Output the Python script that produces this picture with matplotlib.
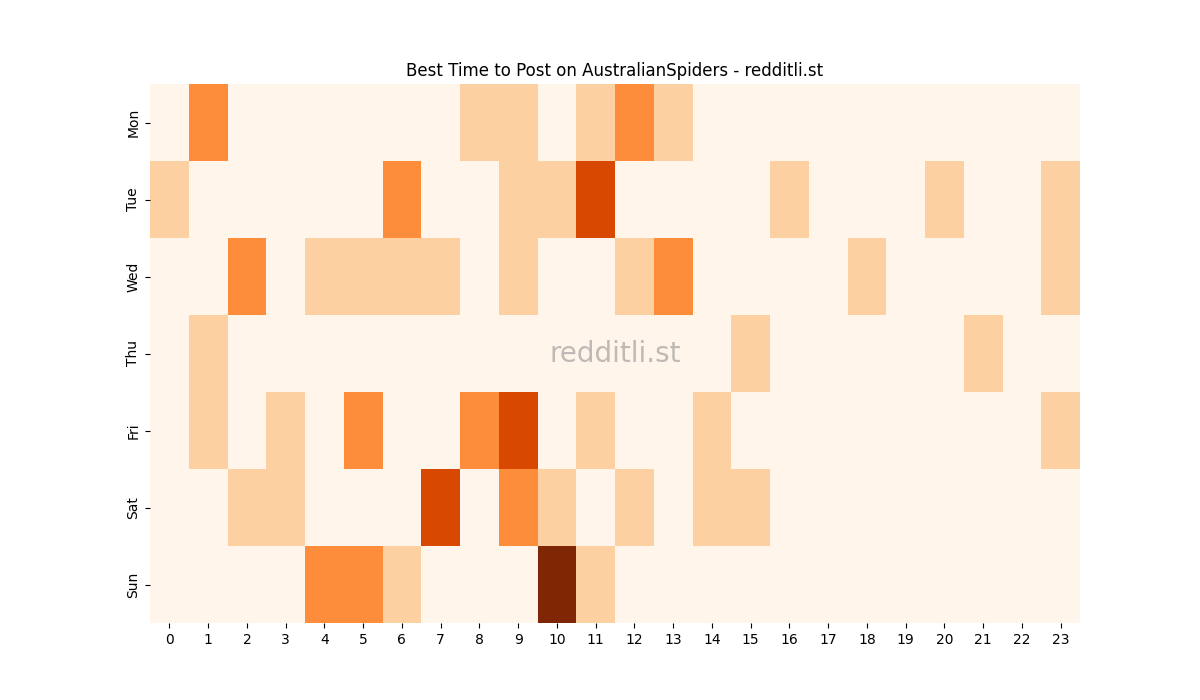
import matplotlib
matplotlib.use("Agg")
import matplotlib.pyplot as plt
import seaborn as sns
import numpy as np

days = ["Mon", "Tue", "Wed", "Thu", "Fri", "Sat", "Sun"]
hours = list(range(24))
mon = [0,2,0,0,0,0,0,0,1,1,0,1,2,1,0,0,0,0,0,0,0,0,0,0]
tue = [1,0,0,0,0,0,2,0,0,1,1,3,0,0,0,0,1,0,0,0,1,0,0,1]
wed = [0,0,2,0,1,1,1,1,0,1,0,0,1,2,0,0,0,0,1,0,0,0,0,1]
thu = [0,1,0,0,0,0,0,0,0,0,0,0,0,0,0,1,0,0,0,0,0,1,0,0]
fri = [0,1,0,1,0,2,0,0,2,3,0,1,0,0,1,0,0,0,0,0,0,0,0,1]
sat = [0,0,1,1,0,0,0,3,0,2,1,0,1,0,1,1,0,0,0,0,0,0,0,0]
sun = [0,0,0,0,2,2,1,0,0,0,4,1,0,0,0,0,0,0,0,0,0,0,0,0]

data = np.array([mon, tue, wed, thu, fri, sat, sun])
fig, ax = plt.subplots(figsize=(12, 7), dpi=100)
sns.heatmap(data, cmap="Oranges", cbar=False, ax=ax, xticklabels=hours, yticklabels=days, vmin=0, vmax=4)
ax.set_title("Best Time to Post on AustralianSpiders - redditli.st")
ax.text(0.5, 0.5, "redditli.st", transform=ax.transAxes, ha="center", va="center",
        fontsize=20, color="gray", alpha=0.5)
plt.setp(ax.get_xticklabels(), rotation=0)
fig.savefig("out.png")
